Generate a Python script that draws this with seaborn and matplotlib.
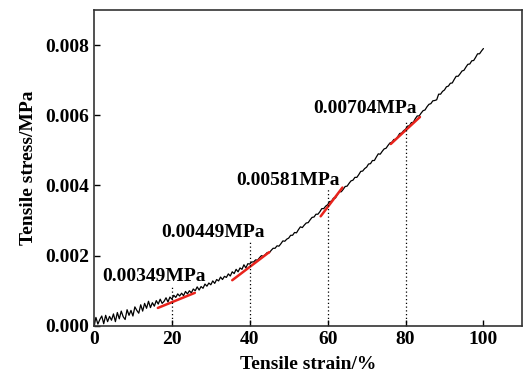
import numpy as np
import pandas as pd
import matplotlib
matplotlib.use("Agg")
import matplotlib.pyplot as plt
import seaborn as sns
from matplotlib.ticker import FormatStrFormatter

# strain in %, stress in units of 1e-5 MPa (0.5 % steps)
strain = np.arange(0, 100.5, 0.5)
stress_1e5 = [
    0, 24, 5, 18, 28, 6, 30, 12, 27, 16,
    34, 12, 38, 20, 42, 26, 18, 46, 30, 44,
    28, 54, 44, 36, 60, 42, 64, 50, 70, 52,
    66, 56, 72, 62, 76, 64, 70, 80, 68, 82,
    76, 87, 81, 91, 85, 93, 86, 98, 91, 100,
    94, 105, 100, 111, 102, 112, 107, 119, 113, 122,
    117, 128, 121, 132, 128, 139, 132, 141, 138, 148,
    142, 154, 149, 161, 154, 165, 161, 174, 165, 177,
    176, 182, 182, 188, 187, 194, 200, 198, 203, 209,
    208, 215, 221, 221, 228, 227, 234, 242, 241, 247,
    250, 258, 258, 266, 265, 274, 282, 280, 287, 293,
    294, 302, 309, 310, 318, 318, 325, 334, 334, 341,
    345, 354, 355, 364, 364, 374, 382, 382, 389, 397,
    398, 406, 413, 415, 423, 423, 431, 440, 441, 448,
    452, 461, 462, 471, 471, 481, 490, 489, 497, 504,
    506, 514, 521, 523, 531, 531, 539, 548, 549, 556,
    560, 569, 570, 579, 580, 590, 598, 598, 606, 613,
    615, 624, 631, 633, 641, 642, 644, 660, 660, 668,
    672, 681, 683, 691, 692, 702, 711, 711, 718, 726,
    728, 737, 745, 746, 755, 756, 765, 775, 775, 783,
    790,
]
stress = np.array(stress_1e5) * 1e-5

# tangent segments (red)
seg_x0 = [16.4, 35.5, 58.2, 76.2]
seg_x1 = [25.9, 45.0, 63.8, 83.7]
seg_y0 = [0.00051, 0.00130, 0.00312, 0.00518]
seg_y1 = [0.00094, 0.00210, 0.00394, 0.00595]

# dotted markers and labels
mark_x = [20, 40, 60, 80]
mark_top = [0.00110, 0.00244, 0.00389, 0.00584]
labels = ["0.00349MPa", "0.00449MPa", "0.00581MPa", "0.00704MPa"]
label_x = [15.4, 30.6, 49.7, 69.5]
label_y = [0.00142, 0.00265, 0.00414, 0.00618]

sns.set_style("ticks")
plt.rcParams["font.family"] = ["Liberation Serif", "DejaVu Serif"]
plt.rcParams["font.weight"] = "bold"
plt.rcParams["text.color"] = "black"
plt.rcParams["axes.labelcolor"] = "black"

fig, ax = plt.subplots(figsize=(5.25, 3.82), dpi=100)
fig.subplots_adjust(left=0.179, right=0.995, top=0.974, bottom=0.147)

df = pd.DataFrame({"strain": strain, "stress": stress})
sns.lineplot(data=df, x="strain", y="stress", color="black", linewidth=0.9, ax=ax)

for i in range(len(seg_x0)):
    seg = pd.DataFrame({"x": [seg_x0[i], seg_x1[i]], "y": [seg_y0[i], seg_y1[i]]})
    sns.lineplot(data=seg, x="x", y="y", color="#e8231c", linewidth=1.8, ax=ax)

ax.vlines(mark_x, 0, mark_top, colors="black", linestyles=(0, (1, 2)), linewidth=0.9)

for x, y, t in zip(label_x, label_y, labels):
    ax.text(x, y, t, ha="center", va="center", fontsize=14, fontweight="bold", color="black")

ax.set_xlim(0, 110)
ax.set_ylim(0, 0.009)
ax.set_xticks([0, 20, 40, 60, 80, 100])
ax.set_yticks([0, 0.002, 0.004, 0.006, 0.008])
ax.yaxis.set_major_formatter(FormatStrFormatter("%.3f"))
ax.tick_params(direction="in", length=4, width=1, labelsize=14, colors="black")
for lab in ax.get_xticklabels() + ax.get_yticklabels():
    lab.set_fontweight("bold")
for s in ax.spines.values():
    s.set_visible(True)
    s.set_color("#333333")
    s.set_linewidth(1.2)

ax.set_xlabel("Tensile strain/%", fontsize=14, fontweight="bold", labelpad=6, color="black")
ax.set_ylabel("Tensile stress/MPa", fontsize=14, fontweight="bold", labelpad=6, color="black")

fig.savefig("out.png", dpi=100)
